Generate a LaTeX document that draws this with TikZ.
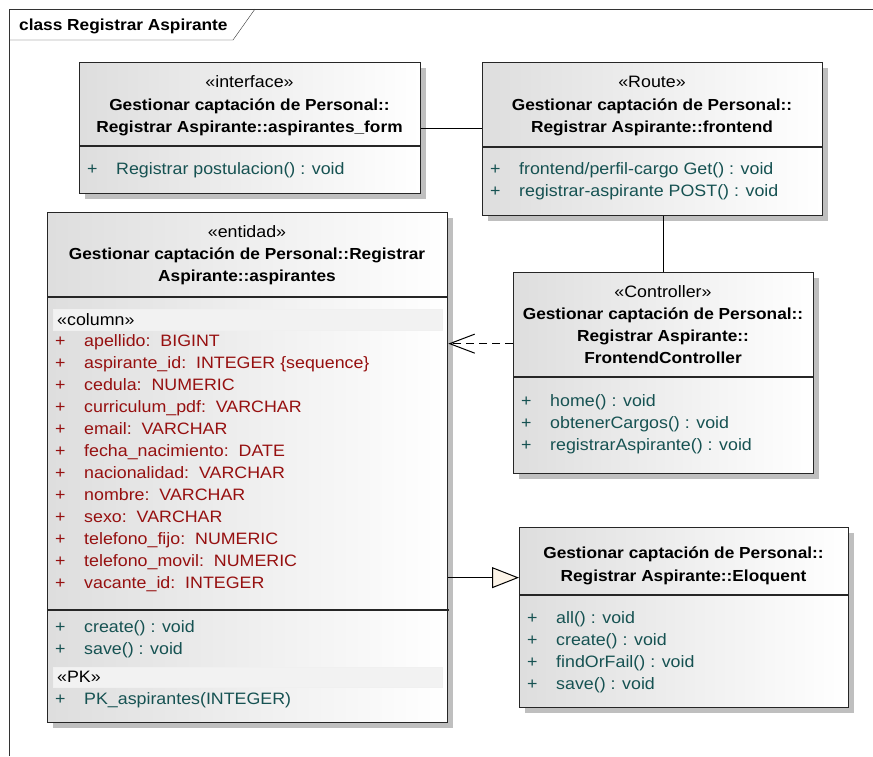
\documentclass[tikz,border=0pt]{standalone}
\usepackage{fontspec}
\setmainfont{Liberation Sans}[FakeStretch=1.08]
\usepackage{tikz}
\usetikzlibrary{arrows.meta,positioning,shadows,calc}

\definecolor{attrred}{RGB}{150,16,16}
\definecolor{opteal}{RGB}{22,82,82}
\definecolor{genfill}{RGB}{252,244,232}
\newcommand{\pl}{\makebox[29pt][l]{+}}

\begin{document}
\begin{tikzpicture}[x=1pt, y=-1pt, font=\fontsize{16.5}{19}\selectfont,
    umlbox/.style={draw=black!85, line width=1.3pt, anchor=north west, inner sep=0pt,
        left color=black!13, right color=white,
        drop shadow={shadow xshift=5pt, shadow yshift=-5pt, fill=black!25, opacity=1}},
    band/.style={draw=black!6, fill=black!5, anchor=north west, inner sep=0pt},
    sep/.style={line width=1.1pt, black!85},
    head/.style={anchor=base, inner sep=0pt},
    title/.style={head, font=\fontsize{16}{19}\selectfont\bfseries},
    attr/.style={anchor=base west, inner sep=0pt, text=attrred},
    oper/.style={anchor=base west, inner sep=0pt, text=opteal},
    link/.style={line width=1pt},
    dep/.style={link, dash pattern=on 8pt off 5pt, -{Straight Barb[length=25pt, width=19pt]}},
    gen/.style={link, -{Triangle[length=27pt, width=21pt, fill=genfill]}}]
  \useasboundingbox (0,0) rectangle (873,756);

  % frame
  \draw[black!80] (9,756) -- (9,9) -- (873,9);
  \draw[black!80] (9,40) -- (233,40) -- (255,9);
  \node[anchor=base west, inner sep=0pt, font=\fontsize{16}{19}\selectfont\bfseries] (frame) at (19,30) {class Registrar Aspirante};

  % interface
  \node[umlbox, minimum width=341pt, minimum height=131pt] (form) at (79,62) {};
  \node[head] (formst) at (249.5,87.5) {«interface»};
  \node[title] (formt1) at (249.5,110) {Gestionar captación de Personal::};
  \node[title] (formt2) at (249.5,132.5) {Registrar Aspirante::aspirantes\_form};
  \draw[sep] (form.west |- 0,146) -- (form.east |- 0,146);
  \node[oper] (formop1) at (87,174.5) {\pl Registrar postulacion() : void};

  % route
  \node[umlbox, minimum width=340pt, minimum height=153pt] (front) at (482,62) {};
  \node[head] (frontst) at (652,87.5) {«Route»};
  \node[title] (frontt1) at (652,110) {Gestionar captación de Personal::};
  \node[title] (frontt2) at (652,132.5) {Registrar Aspirante::frontend};
  \draw[sep] (front.west |- 0,147) -- (front.east |- 0,147);
  \node[oper] (frontop1) at (490,174.5) {\pl frontend/perfil-cargo Get() : void};
  \node[oper] (frontop2) at (490,196.5) {\pl registrar-aspirante POST() : void};

  % entidad
  \node[umlbox, minimum width=400pt, minimum height=510pt] (ent) at (47,212) {};
  \node[head] (entst) at (247,237.5) {«entidad»};
  \node[title] (entt1) at (247,259.5) {Gestionar captación de Personal::Registrar};
  \node[title] (entt2) at (247,281.5) {Aspirante::aspirantes};
  \draw[sep] (ent.west |- 0,297) -- (ent.east |- 0,297);
  \node[band, minimum width=389pt, minimum height=21pt] (colband) at (53,309) {};
  \node[anchor=base west, inner sep=0pt] (colst) at (57,325.5) {«column»};
  \foreach \t [count=\k from 0] in {{apellido:~~BIGINT}, {aspirante\_id:~~INTEGER \{sequence\}},
      {cedula:~~NUMERIC}, {curriculum\_pdf:~~VARCHAR}, {email:~~VARCHAR},
      {fecha\_nacimiento:~~DATE}, {nacionalidad:~~VARCHAR}, {nombre:~~VARCHAR},
      {sexo:~~VARCHAR}, {telefono\_fijo:~~NUMERIC}, {telefono\_movil:~~NUMERIC},
      {vacante\_id:~~INTEGER}}
    \node[attr] (att\k) at (55,{346.5+22*\k}) {\pl\t};
  \draw[sep] (ent.west |- 0,610) -- (449,610);
  \node[oper] (entop1) at (55,632) {\pl create() : void};
  \node[oper] (entop2) at (55,654) {\pl save() : void};
  \node[band, minimum width=389pt, minimum height=20pt] (pkband) at (53,667) {};
  \node[anchor=base west, inner sep=0pt] (pkst) at (57,682.5) {«PK»};
  \node[oper] (pk1) at (55,704.5) {\pl PK\_aspirantes(INTEGER)};

  % controller
  \node[umlbox, minimum width=300pt, minimum height=201pt] (ctrl) at (513,272) {};
  \node[head] (ctrlst) at (663,297.5) {«Controller»};
  \node[title] (ctrlt1) at (663,319.5) {Gestionar captación de Personal::};
  \node[title] (ctrlt2) at (663,341.5) {Registrar Aspirante::};
  \node[title] (ctrlt3) at (663,363.5) {FrontendController};
  \draw[sep] (ctrl.west |- 0,377) -- (ctrl.east |- 0,377);
  \node[oper] (ctrlop1) at (521,406.5) {\pl home() : void};
  \node[oper] (ctrlop2) at (521,428.5) {\pl obtenerCargos() : void};
  \node[oper] (ctrlop3) at (521,450.5) {\pl registrarAspirante() : void};

  % eloquent
  \node[umlbox, minimum width=329pt, minimum height=180pt] (elo) at (519,527) {};
  \node[title] (elot1) at (683.5,558.5) {Gestionar captación de Personal::};
  \node[title] (elot2) at (683.5,581.5) {Registrar Aspirante::Eloquent};
  \draw[sep] (elo.west |- 0,595) -- (elo.east |- 0,595);
  \foreach \t [count=\k from 0] in {{all() : void}, {create() : void}, {findOrFail() : void}, {save() : void}}
    \node[oper] (eloop\k) at (527,{623.5+22*\k}) {\pl\t};

  % connectors
  \draw[link] (form.east) -- (form.east -| front.west);
  \draw[link] (ctrl.north) -- (ctrl.north |- front.south);
  \draw[dep] ([yshift=29.5pt]ctrl.west) -- ([yshift=29.5pt]ctrl.west -| ent.east);
  \draw[gen] ([yshift=-110pt]ent.east) -- ([yshift=-110pt]ent.east -| elo.west);
\end{tikzpicture}
\end{document}
